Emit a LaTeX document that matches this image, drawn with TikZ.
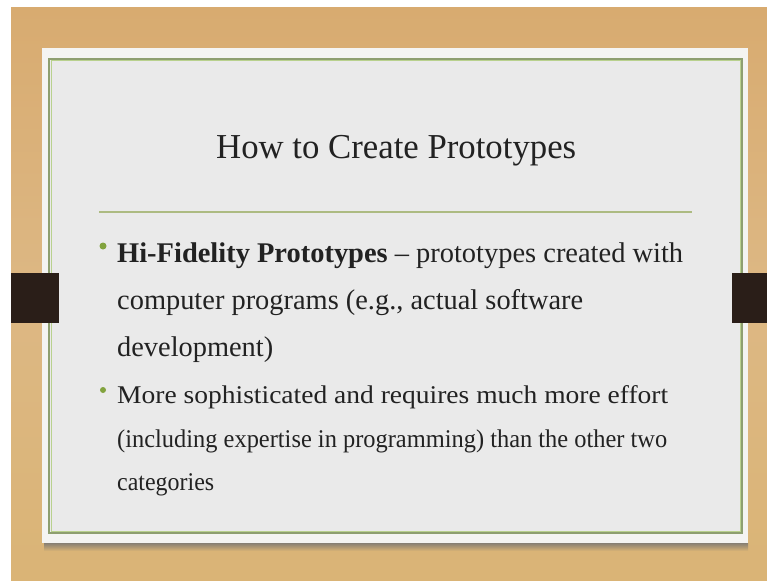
\documentclass[tikz,border=0pt]{standalone}
\usepackage{fontspec}
\usepackage{graphicx}
\setmainfont{Liberation Serif}
\definecolor{woodA}{HTML}{D8AB70}
\definecolor{woodB}{HTML}{DDB884}
\definecolor{woodC}{HTML}{DAB476}
\definecolor{panel}{HTML}{EAEAEA}
\definecolor{panelrim}{HTML}{F4F4F2}
\definecolor{greendark}{HTML}{8E9F70}
\definecolor{greenlight}{HTML}{B9D18E}
\definecolor{ruleg}{HTML}{ADBB82}
\definecolor{bulletg}{HTML}{82A33E}
\definecolor{tabc}{HTML}{2A1E18}
\definecolor{txt}{HTML}{222222}
\newcommand\fitto[2]{\setbox0\hbox{#2}\pgfmathsetmacro\myfac{#1/\the\wd0}\scalebox{\myfac}[1]{\box0}}
\tikzset{
  tab/.style={fill=tabc, draw=none},
  line/.style={anchor=base west, inner sep=0pt, text=txt},
  dot/.style={circle, fill=bulletg, inner sep=0pt, minimum size=7pt},
}
\begin{document}
\begin{tikzpicture}[x=1pt,y=-1pt]
\useasboundingbox (0,0) rectangle (767,580);
% white margin
\fill[white] (0,0) rectangle (767,580);
% wood background
\shade[top color=woodA, bottom color=woodC, middle color=woodB] (11,8) rectangle (767,580);
% shadow under panel
\shade[top color=black!55, bottom color=woodC, opacity=0.8] (44,543) rectangle (748,551);
% panel
\fill[panelrim] (42,48) rectangle (748,543);
\fill[panel] (50,60) rectangle (741,532);
\draw[greendark, line width=1.6pt] (49,59) rectangle (742,533);
\draw[greenlight, line width=0.6pt] (50.8,60.8) rectangle (740.2,531.2);
% tabs
\fill[tab] (11,273) rectangle (59,323);
\fill[tab] (732,273) rectangle (767,323);
% title
\node[anchor=base west, inner sep=0pt, text=txt, font=\fontsize{35}{40}\selectfont] (title) at (216,158) {\fitto{360}{How to Create Prototypes}};
% rule
\coordinate (ra) at (99,212);
\coordinate (rb) at (692,212);
\draw[ruleg, line width=1.5pt] (ra) -- (rb);
% bullet 1
\node[dot] (b1) at (103,246) {};
\node[line, font=\fontsize{28.5}{32}\selectfont] (l1) at (117,262) {\fitto{566}{\textbf{Hi-Fidelity Prototypes} -- prototypes created with}};
\node[line, font=\fontsize{28.5}{32}\selectfont] (l2) at (117,309) {\fitto{466}{computer programs (e.g., actual software}};
\node[line, font=\fontsize{28.5}{32}\selectfont] (l3) at (117,356) {\fitto{156}{development)}};
% bullet 2
\node[dot, minimum size=6pt] (b2) at (103,390) {};
\node[line, font=\fontsize{25.5}{28}\selectfont] (m1) at (117,403) {\fitto{551}{More sophisticated and requires much more effort}};
\node[line, font=\fontsize{25.5}{28}\selectfont] (m2) at (117,447) {\fitto{550}{(including expertise in programming) than the other two}};
\node[line, font=\fontsize{25.5}{28}\selectfont] (m3) at (117,490) {\fitto{97}{categories}};
\end{tikzpicture}
\end{document}
